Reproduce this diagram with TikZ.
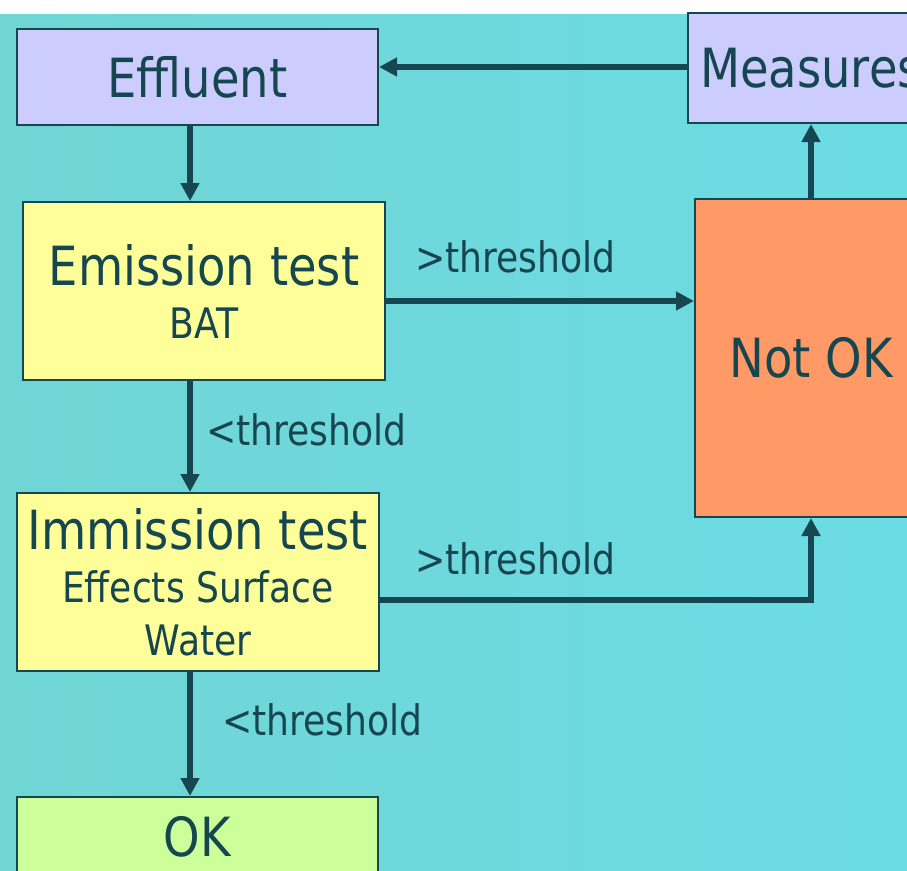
\documentclass[tikz,border=0pt]{standalone}
\usepackage{fontspec}
\setmainfont{DejaVu Sans}[FakeStretch=0.86]
\usetikzlibrary{arrows.meta}
\definecolor{ink}{HTML}{16464F}
\definecolor{seaL}{HTML}{70D5D5}
\definecolor{seaR}{HTML}{6CDCE4}
\definecolor{lilac}{HTML}{CCCCFF}
\definecolor{lemon}{HTML}{FFFF99}
\definecolor{salmon}{HTML}{FF9966}
\definecolor{okgreen}{HTML}{CCFF99}
\newcommand\bigf{\fontsize{54}{53}\selectfont}
\newcommand\smallf{\fontsize{42}{52}\selectfont}
\begin{document}
\begin{tikzpicture}[x=1pt,y=-1pt,
  box/.style={draw=ink,line width=2pt,text=ink,inner sep=0pt,align=center,font=\bigf},
  flow/.style={draw=ink,line width=5.5pt,-{Triangle[length=18pt,width=18pt]}},
  lbl/.style={text=ink,inner sep=0pt,anchor=base west,font=\smallf}]
  \useasboundingbox (0,0) rectangle (907,870);
  \shade[left color=seaL,right color=seaR] (0,14) rectangle (907,870);
  \coordinate (spine) at (190,0);
  \coordinate (rowM) at (0,67);
  \coordinate (rowE) at (0,301);
  \coordinate (rowI) at (0,600);
  \node[box,fill=lilac,minimum width=361pt,minimum height=96pt](effluent)at(197.5,77){Effluent};
  \node[box,fill=lilac,minimum width=246pt,minimum height=110pt](measures)at(811,68){Measures};
  \node[box,fill=lemon,minimum width=362pt,minimum height=178pt](emission)at(204,291){Emission test\\\smallf BAT};
  \node[box,fill=salmon,minimum width=232pt,minimum height=318pt](notok)at(811,358){Not OK};
  \node[box,fill=lemon,minimum width=362pt,minimum height=178pt](immission)at(198,582){Immission test\\\smallf Effects Surface\\\smallf Water};
  \node[box,fill=okgreen,minimum width=361pt,minimum height=80pt](ok)at(197.5,837){OK};
  \draw[flow](measures.west|-rowM)--(effluent.east|-rowM);
  \draw[flow](effluent.south-|spine)--(emission.north-|spine);
  \draw[flow](emission.east|-rowE)--(notok.west|-rowE);
  \draw[flow](emission.south-|spine)--(immission.north-|spine);
  \draw[flow](immission.east|-rowI)-|(notok.south);
  \draw[flow](immission.south-|spine)--(ok.north-|spine);
  \draw[flow](notok.north)--(measures.south);
  \node[lbl](overE)at(415,272){>threshold};
  \node[lbl](underE)at(206,445){<threshold};
  \node[lbl](overI)at(415,574){>threshold};
  \node[lbl](underI)at(222,735){<threshold};
\end{tikzpicture}
\end{document}
